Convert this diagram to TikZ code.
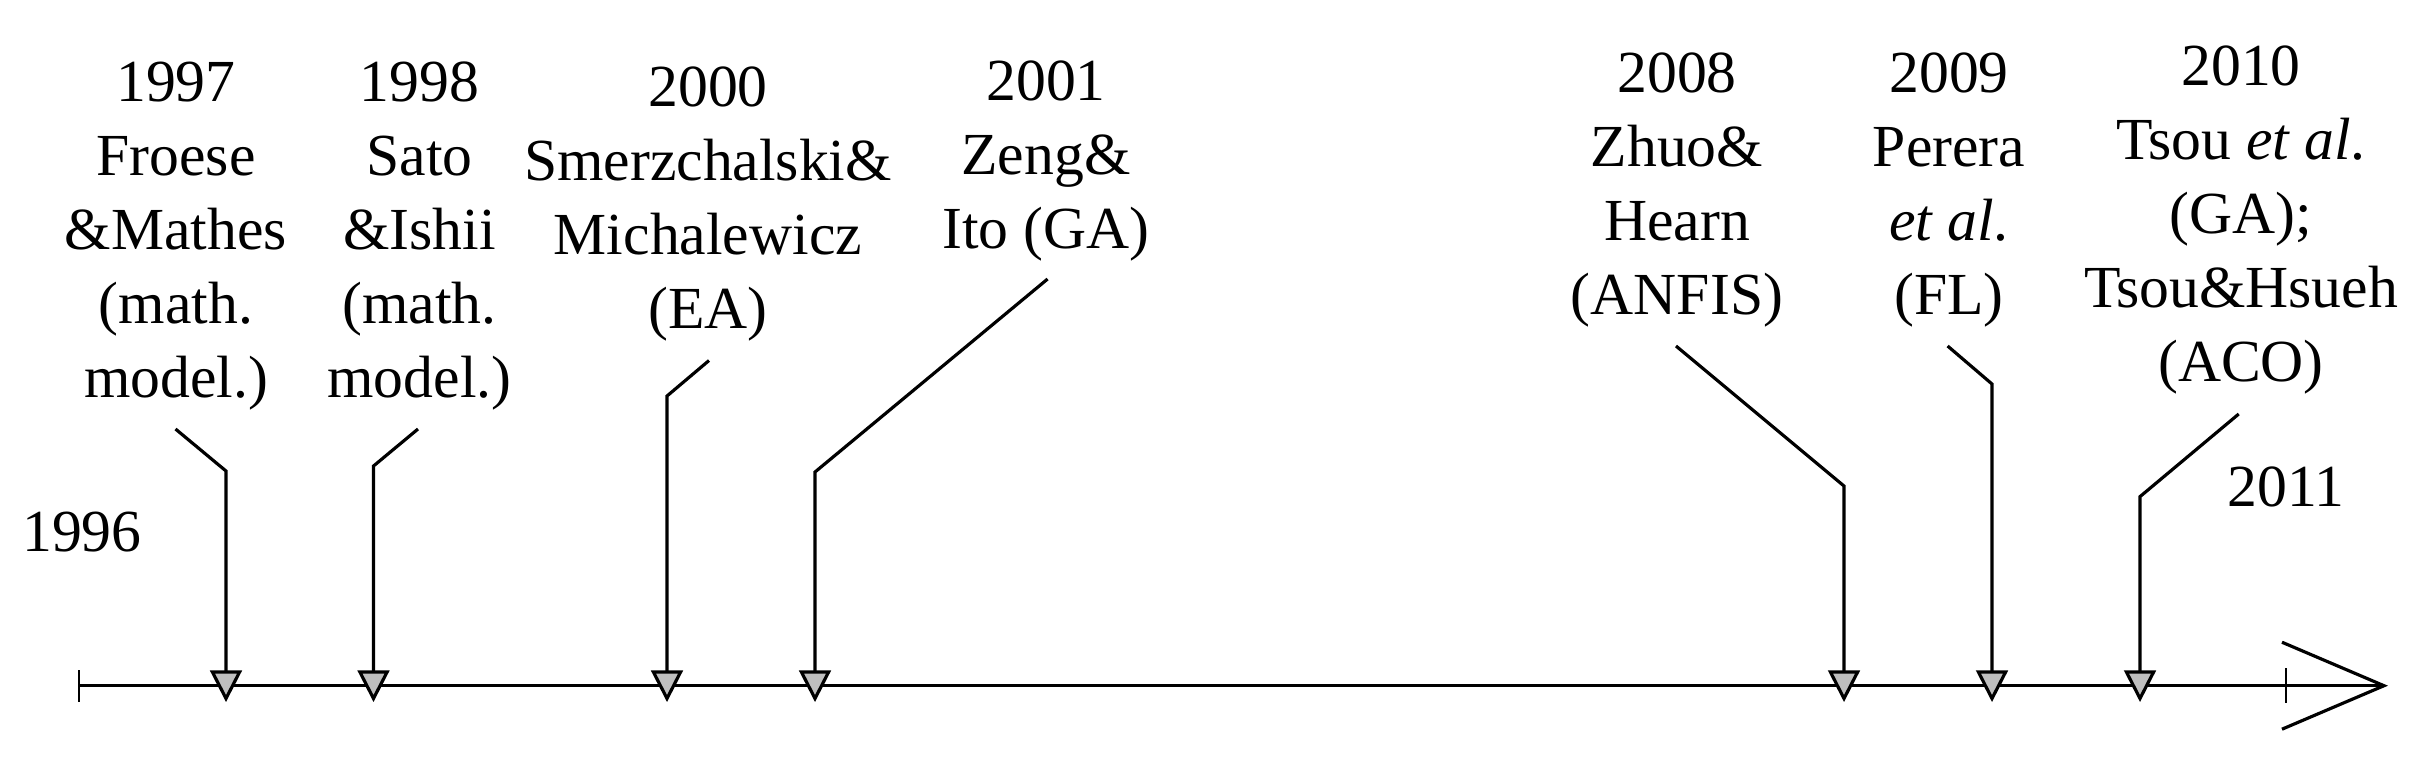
\documentclass[tikz,border=0pt]{standalone}
\usepackage{fontspec}
\setmainfont{Liberation Serif}
\usetikzlibrary{arrows.meta}
\tikzset{
  lbl/.style={font=\fontsize{17.9}{22.2}\selectfont, align=center, inner sep=0pt, anchor=base},
  leader/.style={line width=0.95pt, line join=miter},
  tri/.style={line width=0.95pt, line join=miter, fill=black!25, draw=black},
  axis/.style={line width=0.85pt, -{Straight Barb[length=30.6pt,width=26.1pt,line width=0.95pt]}},
  tick/.style={line width=0.85pt}
}
\newcommand{\marker}[1]{\filldraw[tri] (#1) ++(-13.6,-26.5) -- ++(27.2,0) -- (#1) -- cycle;}
\begin{document}
\begin{tikzpicture}[x=0.3pt,y=-0.3pt]
\useasboundingbox (0,0) rectangle (2433,762);
% axis
\coordinate (a0) at (79,685.7);
\coordinate (a1) at (2388,685.7);
\draw[axis] (a0) -- (a1);
\coordinate (k0t) at (79,670); \coordinate (k0b) at (79,702);
\coordinate (k1t) at (2286,668); \coordinate (k1b) at (2286,703);
\draw[tick] (k0t) -- (k0b);
\draw[tick] (k1t) -- (k1b);
% end labels
\node[lbl] (y96) at (82,551.5) {1996};
\node[lbl] (y11) at (2286,506) {2011};
% labels (anchored at the baseline of the last line)
\node[lbl] (l97) at (176,397.5) {1997\\Froese\\\&Mathes\\(math.\\model.)};
\node[lbl] (l98) at (419.5,397.5) {1998\\Sato\\\&Ishii\\(math.\\model.)};
\node[lbl] (l00) at (708,328) {2000\\Smerzchalski\&\\Michalewicz\\(EA)};
\node[lbl] (l01) at (1046,248) {2001\\Zeng\&\\Ito (GA)};
\node[lbl] (l08) at (1677,314) {2008\\Zhuo\&\\Hearn\\(ANFIS)};
\node[lbl] (l09) at (1949,314) {2009\\Perera\\\textit{et al}.\\(FL)};
\node[lbl] (l10) at (2241,381.4) {2010\\Tsou \textit{et al}.\\(GA);\\Tsou\&Hsueh\\(ACO)};
% leader coordinates: start, bend, triangle top, triangle tip
\coordinate (s97) at (175.5,429); \coordinate (b97) at (226,471); \coordinate (e97) at (226,672); \coordinate (t97) at (226,698.5);
\coordinate (s98) at (418,429); \coordinate (b98) at (373.5,466); \coordinate (e98) at (373.5,672); \coordinate (t98) at (373.5,698.5);
\coordinate (s00) at (709,360.5); \coordinate (b00) at (667,396); \coordinate (e00) at (667,672); \coordinate (t00) at (667,698.5);
\coordinate (s01) at (1047.6,279); \coordinate (b01) at (815,472); \coordinate (e01) at (815,672); \coordinate (t01) at (815,698.5);
\coordinate (s08) at (1676,346); \coordinate (b08) at (1844,486); \coordinate (e08) at (1844,672); \coordinate (t08) at (1844,698.5);
\coordinate (s09) at (1947.6,346); \coordinate (b09) at (1992,384); \coordinate (e09) at (1992,672); \coordinate (t09) at (1992,698.5);
\coordinate (s10) at (2238.7,414); \coordinate (b10) at (2140,496.6); \coordinate (e10) at (2140,672); \coordinate (t10) at (2140,698.5);
\draw[leader] (s97) -- (b97) -- (e97);
\draw[leader] (s98) -- (b98) -- (e98);
\draw[leader] (s00) -- (b00) -- (e00);
\draw[leader] (s01) -- (b01) -- (e01);
\draw[leader] (s08) -- (b08) -- (e08);
\draw[leader] (s09) -- (b09) -- (e09);
\draw[leader] (s10) -- (b10) -- (e10);
\marker{t97}\marker{t98}\marker{t00}\marker{t01}\marker{t08}\marker{t09}\marker{t10}
\end{tikzpicture}
\end{document}
